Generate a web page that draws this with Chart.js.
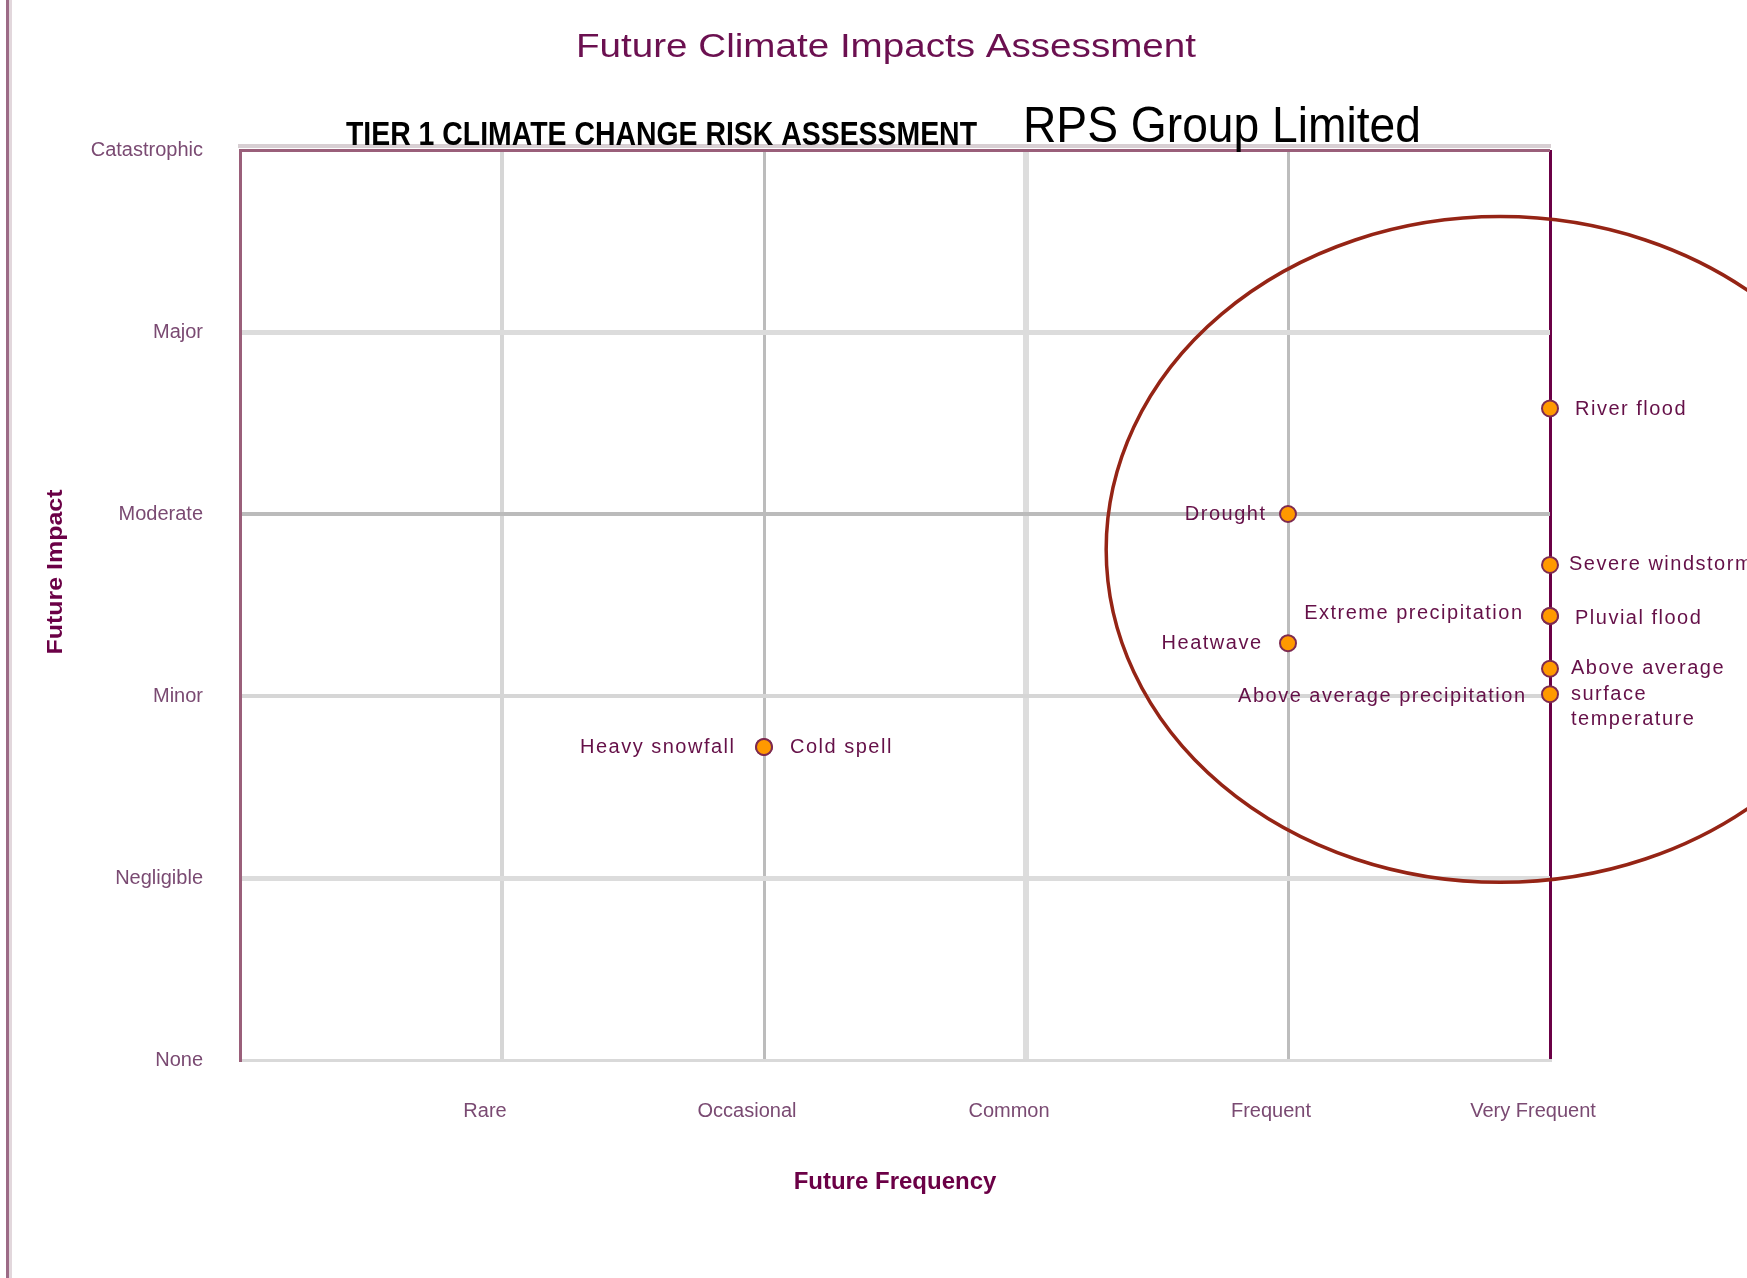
<!DOCTYPE html>
<html>
<head>
<meta charset="utf-8">
<script src="https://cdn.jsdelivr.net/npm/chart.js@4.4.1/dist/chart.umd.min.js"></script>
<style>
  html, body { margin: 0; padding: 0; background: #ffffff; }
  canvas { display: block; }
</style>
</head>
<body>
<canvas id="c" width="1747" height="1278"></canvas>
<script>
// ---------------- DATA ----------------
const frequencyLabels = ['', 'Rare', 'Occasional', 'Common', 'Frequent', 'Very Frequent'];
const impactLabels = ['None', 'Negligible', 'Minor', 'Moderate', 'Major', 'Catastrophic'];

const riskNames = [
  'River flood',
  'Drought',
  'Severe windstorm',
  'Pluvial flood',
  'Extreme precipitation',
  'Heatwave',
  'Above average surface temperature',
  'Above average precipitation',
  'Heavy snowfall',
  'Cold spell'
];
const riskFrequency = [5, 4, 5, 5, 5, 4, 5, 5, 2, 2];
const riskImpact    = [3.58, 3.0, 2.72, 2.44, 2.44, 2.29, 2.15, 2.01, 1.72, 1.72];

// highlight ellipse in data units: centre x, centre y, radius x, radius y
const highlightEllipse = [4.81, 2.805, 1.504, 1.829];

const chartTitle = 'Future Climate Impacts Assessment';
const headerLeft = 'TIER 1 CLIMATE CHANGE RISK ASSESSMENT';
const headerRight = 'RPS Group Limited';
const xTitle = 'Future Frequency';
const yTitle = 'Future Impact';

// ---------------- STYLE ----------------
const FONT = "'Liberation Sans', Arial, sans-serif";
const PURPLE = '#6b0046';
const TEXT_PURPLE = '#651048';
const TICK_COLOR = '#7a4a72';

const labelStyle = {
  'River flood': {side: 'right', dx: 25, dy: 1},
  'Drought': {side: 'left', dx: -23, dy: 0},
  'Severe windstorm': {side: 'right', dx: 19, dy: 0},
  'Pluvial flood': {side: 'right', dx: 25, dy: 3},
  'Extreme precipitation': {side: 'left', dx: -28, dy: -2},
  'Heatwave': {side: 'left', dx: -27, dy: 0},
  'Above average surface temperature': {side: 'right', dx: 21, dy: 0, lines: ['Above average', 'surface', 'temperature'], gap: 25.5},
  'Above average precipitation': {side: 'left', dx: -25, dy: 2},
  'Heavy snowfall': {side: 'left', dx: -30, dy: 1},
  'Cold spell': {side: 'right', dx: 26, dy: 1}
};

const xGridColors = ['#9a5f7a', '#d6d6d6', '#bcbcbc', '#dddddd', '#bdbdbd', PURPLE];
const xGridWidths = [3, 4, 3, 6, 3, 3];
const yGridColors = ['#d9d9d9', '#dcdcdc', '#d6d6d6', '#bbbbbb', '#dcdcdc', '#9a5f7a'];
const yGridWidths = [3, 5, 4, 4, 5, 3];

function spacedText(ctx, text, x, y, spacing, align) {
  const chars = Array.from(text);
  const widths = chars.map(c => ctx.measureText(c).width);
  const total = widths.reduce((a, b) => a + b, 0) + spacing * (chars.length - 1);
  let cx = align === 'right' ? x - total : (align === 'center' ? x - total / 2 : x);
  ctx.textAlign = 'left';
  chars.forEach((c, i) => { ctx.fillText(c, cx, y); cx += widths[i] + spacing; });
}

function scaledText(ctx, text, x, y, font, color, align, targetW, baseline) {
  ctx.save();
  ctx.font = font;
  ctx.fillStyle = color;
  ctx.textBaseline = baseline || 'alphabetic';
  const w = ctx.measureText(text).width;
  const sx = targetW / w;
  const left = align === 'center' ? x - targetW / 2 : (align === 'right' ? x - targetW : x);
  ctx.translate(left, y);
  ctx.scale(sx, 1);
  ctx.textAlign = 'left';
  ctx.fillText(text, 0, 0);
  ctx.restore();
}

const decorPlugin = {
  id: 'decor',
  beforeDraw(chart) {
    const ctx = chart.ctx;
    ctx.save();
    ctx.fillStyle = '#ffffff';
    ctx.fillRect(0, 0, chart.width, chart.height);
    // left page bar
    ctx.fillStyle = '#9c6b86';
    ctx.fillRect(6, 0, 3, chart.height);
    ctx.fillStyle = '#e2d7dc';
    ctx.fillRect(9, 0, 3, chart.height);
    // light strip above the top border
    const a = chart.chartArea;
    ctx.fillStyle = '#d8cfd3';
    ctx.fillRect(a.left - 2, a.top - 6, a.right - a.left + 3, 4);
    ctx.restore();
  },
  afterDatasetsDraw(chart) {
    const ctx = chart.ctx;
    const xs = chart.scales.x, ys = chart.scales.y;
    // highlight ellipse
    const [ex, ey, erx, ery] = highlightEllipse;
    const cx = xs.getPixelForValue(ex), cy = ys.getPixelForValue(ey);
    const rx = xs.getPixelForValue(ex + erx) - cx;
    const ry = cy - ys.getPixelForValue(ey + ery);
    ctx.save();
    ctx.beginPath();
    ctx.ellipse(cx, cy, rx, ry, 0, 0, Math.PI * 2);
    ctx.strokeStyle = '#952415';
    ctx.lineWidth = 3.5;
    ctx.stroke();
    ctx.restore();

    // point labels
    ctx.save();
    ctx.font = '20px ' + FONT;
    ctx.fillStyle = TEXT_PURPLE;
    ctx.textBaseline = 'middle';
    riskNames.forEach((name, i) => {
      const st = labelStyle[name];
      const px = xs.getPixelForValue(riskFrequency[i]);
      const py = ys.getPixelForValue(riskImpact[i]);
      const lines = st.lines || [name];
      lines.forEach((ln, k) => {
        spacedText(ctx, ln, px + st.dx, py + st.dy + k * (st.gap || 0), 1.5, st.side === 'left' ? 'right' : 'left');
      });
    });
    ctx.restore();
  },
  afterDraw(chart) {
    const ctx = chart.ctx;
    scaledText(ctx, chartTitle, 886, 57, '34px ' + FONT, '#6b1050', 'center', 620);
    scaledText(ctx, headerLeft, 346, 145, 'bold 34px ' + FONT, '#000000', 'left', 631);
    scaledText(ctx, headerRight, 1023, 141.5, '50px ' + FONT, '#000000', 'left', 398);
    // y axis title (rotated)
    ctx.save();
    ctx.translate(56, 572);
    ctx.rotate(-Math.PI / 2);
    scaledText(ctx, yTitle, 0, 0, 'bold 22px ' + FONT, PURPLE, 'center', 165, 'middle');
    ctx.restore();
  }
};

Chart.defaults.font.family = FONT;

new Chart(document.getElementById('c'), {
  type: 'scatter',
  data: {
    datasets: [{
      data: riskNames.map((n, i) => ({x: riskFrequency[i], y: riskImpact[i]})),
      backgroundColor: '#ff9900',
      borderColor: '#7d2a50',
      borderWidth: 2,
      pointRadius: 8,
      pointHoverRadius: 8,
      clip: false
    }]
  },
  options: {
    responsive: false,
    devicePixelRatio: 1,
    animation: false,
    events: [],
    layout: { padding: { top: 150, right: 197, left: 0, bottom: 0 } },
    plugins: { legend: { display: false }, tooltip: { enabled: false }, title: { display: false } },
    scales: {
      x: {
        type: 'linear',
        min: 0, max: 5,
        afterFit(scale) { scale.height = 218; },
        ticks: {
          stepSize: 1,
          autoSkip: false,
          maxRotation: 0,
          padding: 39,
          labelOffset: -17,
          color: TICK_COLOR,
          font: { size: 20 },
          callback: v => frequencyLabels[v] ?? ''
        },
        grid: {
          drawTicks: false,
          color: ctx => xGridColors[ctx.index] || '#ddd',
          lineWidth: ctx => xGridWidths[ctx.index] || 1
        },
        border: { display: true, color: '#d9d9d9', width: 3 },
        title: {
          display: true,
          text: xTitle,
          color: PURPLE,
          font: { size: 24, weight: 'bold' },
          padding: { top: 0, bottom: 81 }
        }
      },
      y: {
        type: 'linear',
        min: 0, max: 5,
        afterFit(scale) { scale.width = 240; },
        ticks: {
          stepSize: 1,
          autoSkip: false,
          padding: 37,
          color: TICK_COLOR,
          font: { size: 20 },
          callback: v => impactLabels[v] ?? ''
        },
        grid: {
          drawTicks: false,
          color: ctx => yGridColors[ctx.index] || '#ddd',
          lineWidth: ctx => yGridWidths[ctx.index] || 1
        },
        border: { display: true, color: '#9a5f7a', width: 3 }
      }
    }
  },
  plugins: [decorPlugin]
});
</script>
</body>
</html>
